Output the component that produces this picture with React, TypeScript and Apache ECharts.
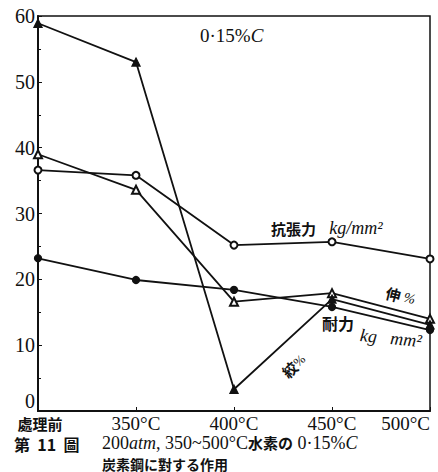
import React, { useEffect, useRef } from "react";
import * as echarts from "echarts";

const categories = ["處理前", "350°C", "400°C", "450°C", "500°C"];
const tensile = [36.6, 35.8, 25.2, 25.7, 23.1]; // 抗張力 kg/mm²
const elongation = [39.0, 33.6, 16.6, 17.9, 14.0]; // 伸 %
const yieldPt = [23.2, 19.9, 18.4, 15.8, 12.3]; // 耐力 kg/mm²
const reduction = [58.9, 53.0, 3.3, 17.0, 13.1]; // 絞 %
const yTicks = [0, 10, 20, 30, 40, 50, 60];

const SERIF = "'Liberation Serif', 'DejaVu Serif', 'Noto Sans CJK JP', serif";
const CJK = "'Noto Sans CJK JP', 'Liberation Serif', serif";

export default function App() {
  const ref = useRef<HTMLDivElement>(null);
  useEffect(() => {
    if (!ref.current) return;
    const chart = echarts.init(ref.current, null, { renderer: "svg" });
    const mk = (name: string, data: number[], symbol: string) => ({
      name,
      type: "line",
      data,
      symbol,
      symbolSize: symbol.includes("ircle") ? 7 : 8,
      showSymbol: true,
      lineStyle: { color: "#111", width: 1.8 },
      itemStyle: { color: "#111", borderColor: "#111", borderWidth: 1.3 },
      emphasis: { disabled: true },
    });
    chart.setOption({
      animation: false,
      backgroundColor: "#fff",
      grid: { left: 38, right: 8, top: 16, bottom: 61, show: true, borderColor: "#111", borderWidth: 1.5, backgroundColor: "transparent" },
      xAxis: {
        type: "category",
        data: categories,
        boundaryGap: false,
        axisLine: { lineStyle: { color: "#111", width: 2 } },
        axisTick: { inside: true, length: 4, lineStyle: { color: "#111" } },
        axisLabel: {
          interval: 0,
          hideOverlap: false,
          color: "#111",
          fontFamily: SERIF,
          fontSize: 19,
          lineHeight: 19,
          margin: 3,
          alignMaxLabel: "right",
          alignMinLabel: "center",
          formatter: (v: string) => (v === categories[0] ? "{c|" + v + "}" : v),
          rich: { c: { fontFamily: CJK, fontSize: 15, lineHeight: 19, fontWeight: "bold", color: "#111", padding: [0, 0, 0, 4] } },
        },
        splitLine: { show: false },
      },
      yAxis: {
        type: "value",
        min: yTicks[0],
        max: yTicks[yTicks.length - 1],
        interval: 10,
        axisLine: { show: true, lineStyle: { color: "#111", width: 2 } },
        axisTick: { show: true, inside: true, length: 4, lineStyle: { color: "#111" } },
        minorTick: { show: true, splitNumber: 2, length: 3, lineStyle: { color: "#111" } },
        axisLabel: {
          color: "#111",
          fontFamily: SERIF,
          fontSize: 20,
          margin: 3,
          formatter: (v: number) => (v === yTicks[0] ? "{z|" + v + "}" : String(v)),
          rich: { z: { fontFamily: SERIF, fontSize: 20, color: "#111", padding: [0, 0, 20, 0] } },
        },
        splitLine: { show: false },
      },
      series: [
        mk("抗張力", tensile, "emptyCircle"),
        mk("伸", elongation, "emptyTriangle"),
        mk("耐力", yieldPt, "circle"),
        mk("絞", reduction, "triangle"),
      ],
      graphic: [
        {
          type: "text", left: 200, top: 26,
          style: {
            text: "{a|0·15%}{b|C}",
            rich: {
              a: { fontFamily: SERIF, fontSize: 19, fill: "#111" },
              b: { fontFamily: SERIF, fontSize: 19, fontStyle: "italic", fill: "#111" },
            },
          },
        },
        {
          type: "text", left: 271, top: 219,
          style: {
            text: "{a|抗張力}    {b|kg/mm²}",
            rich: {
              a: { fontFamily: CJK, fontSize: 15, fontWeight: "bold", fill: "#111" },
              b: { fontFamily: SERIF, fontSize: 18, fontStyle: "italic", fill: "#111" },
            },
          },
        },
        {
          type: "text", x: 388, y: 285, rotation: -0.25,
          style: {
            text: "{a|伸} {b|%}",
            rich: {
              a: { fontFamily: CJK, fontSize: 15, fontWeight: "bold", fill: "#111" },
              b: { fontFamily: SERIF, fontSize: 14, fontStyle: "italic", fill: "#111" },
            },
          },
        },
        {
          type: "text", x: 322, y: 315,
          style: { text: "耐力", fontFamily: CJK, fontSize: 16, fontWeight: "bold", fill: "#111" },
        },
        {
          type: "text", x: 361, y: 326, rotation: -0.1,
          style: { text: "kg   mm²", fontFamily: SERIF, fontSize: 18, fontStyle: "italic", fill: "#111" },
        },
        {
          type: "text", x: 279, y: 369, rotation: 0.75,
          style: {
            text: "{a|絞}{b|%}",
            rich: {
              a: { fontFamily: CJK, fontSize: 15, fontWeight: "bold", fill: "#111" },
              b: { fontFamily: SERIF, fontSize: 13, fill: "#111" },
            },
          },
        },
        {
          type: "text", left: 14, top: 435,
          style: { text: "第  11  圖", fontFamily: CJK, fontSize: 16, lineHeight: 18, fontWeight: "bold", fill: "#111" },
        },
        {
          type: "text", left: 102, top: 434,
          style: {
            text: "{a|200}{b|atm}{a|, 350~500°C}{c|水素の}{a| 0·15%}{b|C}",
            rich: {
              a: { fontFamily: SERIF, fontSize: 18, lineHeight: 18, fill: "#111" },
              b: { fontFamily: SERIF, fontSize: 18, lineHeight: 18, fontStyle: "italic", fill: "#111" },
              c: { fontFamily: CJK, fontSize: 15, lineHeight: 18, fontWeight: "bold", fill: "#111" },
            },
          },
        },
        {
          type: "text", left: 102, top: 456,
          style: { text: "炭素鋼に對する作用", fontFamily: CJK, fontSize: 14, lineHeight: 15, fontWeight: "bold", fill: "#111" },
        },
      ],
    });
    return () => chart.dispose();
  }, []);
  return <div ref={ref} style={{ width: 438, height: 472, position: "absolute", left: 0, top: 0 }} />;
}
